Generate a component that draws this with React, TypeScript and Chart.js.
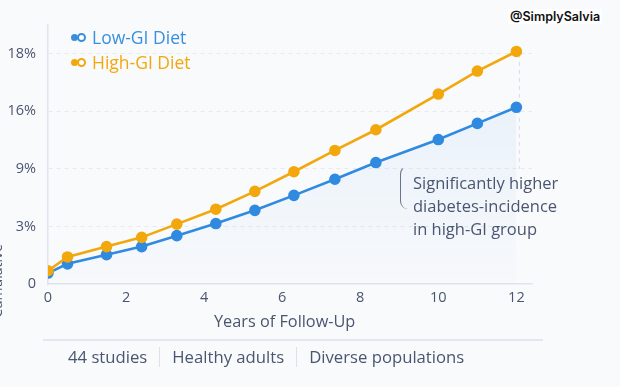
import React, { useEffect, useRef } from "react";
import { Chart, registerables } from "chart.js";

Chart.register(...registerables);

const yTickLabels = ["0", "3%", "9%", "16%", "18%"];
const xTicks = [0, 2, 4, 6, 8, 10, 12];
const years = [0, 0.5, 1.5, 2.4, 3.3, 4.3, 5.3, 6.3, 7.35, 8.4, 10, 11, 12];
const lowGI = [0.19, 0.35, 0.51, 0.65, 0.84, 1.05, 1.28, 1.54, 1.82, 2.11, 2.51, 2.79, 3.07];
const highGI = [0.23, 0.47, 0.65, 0.81, 1.04, 1.3, 1.61, 1.95, 2.32, 2.68, 3.3, 3.7, 4.04];
const footerItems = ["44 studies", "Healthy adults", "Diverse populations"];
const annotationLines = ["Significantly higher", "diabetes-incidence", "in high-GI group"];

const BLUE = "#2f8ae0";
const ORANGE = "#f2a80c";
const FONT = "'Open Sans', 'Noto Sans', sans-serif";
const TEXT = "#4a5670";

export default function App() {
  const ref = useRef<HTMLCanvasElement | null>(null);

  useEffect(() => {
    if (!ref.current) return;
    const extras = {
      id: "extras",
      beforeDatasetsDraw(chart: any) {
        const { ctx, scales } = chart;
        const x = scales.x.getPixelForValue(12);
        ctx.save();
        ctx.strokeStyle = "rgba(190,200,225,0.6)";
        ctx.setLineDash([4, 4]);
        ctx.lineWidth = 1;
        ctx.beginPath();
        ctx.moveTo(x + 3, scales.y.getPixelForValue(4));
        ctx.lineTo(x + 3, scales.y.getPixelForValue(2));
        ctx.stroke();
        ctx.restore();
      },
      afterDraw(chart: any) {
        const { ctx } = chart;
        ctx.save();
        ctx.translate(2, 281);
        ctx.rotate(-Math.PI / 2);
        ctx.font = "14px " + FONT;
        ctx.fillStyle = TEXT;
        ctx.textAlign = "center";
        ctx.textBaseline = "alphabetic";
        ctx.fillText("Cumulative", 0, 0);
        ctx.restore();
      },
    };
    const chart = new Chart(ref.current, {
      type: "line",
      data: {
        datasets: [
          {
            label: "High-GI Diet",
            data: years.map((x, i) => ({ x, y: highGI[i] })),
            borderColor: ORANGE,
            backgroundColor: ORANGE,
            pointBackgroundColor: ORANGE,
            pointBorderColor: ORANGE,
            borderWidth: 2.6,
            pointRadius: 4.5,
            fill: false,
            tension: 0,
          },
          {
            label: "Low-GI Diet",
            data: years.map((x, i) => ({ x, y: lowGI[i] })),
            borderColor: BLUE,
            pointBackgroundColor: BLUE,
            pointBorderColor: BLUE,
            borderWidth: 2.6,
            pointRadius: 4.5,
            tension: 0,
            fill: "origin",
            backgroundColor: (c: any) => {
              const area = c.chart.chartArea;
              if (!area) return "rgba(47,138,224,0.05)";
              const g = c.chart.ctx.createLinearGradient(0, area.top + 80, 0, area.bottom);
              g.addColorStop(0, "rgba(47,138,224,0.07)");
              g.addColorStop(1, "rgba(47,138,224,0.01)");
              return g;
            },
          },
        ],
      },
      options: {
        animation: false,
        responsive: false,
        layout: { padding: { top: 25, right: 88, left: 0, bottom: 0 } },
        plugins: { legend: { display: false }, tooltip: { enabled: false } },
        scales: {
          x: {
            type: "linear",
            min: 0,
            max: 12.4,
            afterFit: (s: any) => {
              s.height = 387 - 284;
            },
            afterBuildTicks: (s: any) => {
              s.ticks = xTicks.map((v) => ({ value: v }));
            },
            ticks: {
              font: { family: FONT, size: 14.5 },
              color: TEXT,
              padding: 5,
              maxRotation: 0,
            },
            grid: { display: false, drawTicks: false },
            border: { display: true, color: "#dfe4ee", width: 1.5 },
          },
          y: {
            type: "linear",
            min: 0,
            max: 4.5,
            afterFit: (s: any) => {
              s.width = 48;
            },
            ticks: {
              stepSize: 1,
              includeBounds: false,
              font: { family: FONT, size: 14.5 },
              color: TEXT,
              padding: 12,
              callback: (v: any) => yTickLabels[v] ?? "",
            },
            grid: {
              color: (c: any) => (c.tick && c.tick.value === 0 ? "rgba(0,0,0,0)" : "rgba(205,213,230,0.45)"),
              drawTicks: false,
              lineWidth: 1,
            },
            border: { display: true, color: "#dfe4ee", width: 1.5, dash: [4, 4] },
          },
        },
      },
      plugins: [extras],
    } as any);
    return () => chart.destroy();
  }, []);

  const legendItem = (label: string, color: string, top: number) => (
    <div style={{ position: "absolute", left: 71, top, display: "flex", alignItems: "center", color, fontSize: 17.5, fontFamily: FONT, lineHeight: "24px" }}>
      <span style={{ width: 7, height: 7, borderRadius: "50%", background: color, display: "inline-block" }} />
      <span style={{ width: 5, height: 5, borderRadius: "50%", border: `2.5px solid ${color}`, display: "inline-block", marginLeft: -1, background: "#fff" }} />
      <span style={{ marginLeft: 6 }}>{label}</span>
    </div>
  );

  return (
    <div style={{ position: "absolute", left: 0, top: 0, width: 620, height: 387, background: "#f9fafc", overflow: "hidden", fontFamily: FONT }}>
      <canvas ref={ref} width={620} height={387} style={{ position: "absolute", left: 0, top: 0 }} />
      {legendItem("Low-GI Diet", "#3a8fdc", 25)}
      {legendItem("High-GI Diet", ORANGE, 50)}
      <div style={{ position: "absolute", left: 508, top: 9, fontSize: 12.5, fontWeight: 600, color: "#111", fontFamily: "Inter, sans-serif", background: "#fff", padding: "0 2px" }}>
        @SimplySalvia
      </div>
      <div style={{ position: "absolute", left: 400, top: 166, width: 10, height: 42, borderLeft: "1.5px solid #6a7488", borderRadius: "8px 0 0 8px", borderTop: "1px solid transparent" }} />
      <div style={{ position: "absolute", left: 413, top: 171, fontSize: 16.5, lineHeight: "23px", color: TEXT }}>
        {annotationLines.map((l) => (
          <div key={l}>{l}</div>
        ))}
      </div>
      <div style={{ position: "absolute", left: 214, top: 310, fontSize: 16.3, lineHeight: "23px", color: TEXT }}>
        Years of Follow-Up
      </div>
      <div style={{ position: "absolute", left: 43, width: 500, top: 339, height: 1.5, background: "#e3e7ef" }} />
      <div style={{ position: "absolute", left: 68, top: 345, display: "flex", alignItems: "center", fontSize: 16.7, lineHeight: "23px", color: TEXT }}>
        {footerItems.map((f, i) => (
          <React.Fragment key={f}>
            {i > 0 && <span style={{ width: 1, height: 20, background: "#dde2ea", margin: "0 12px" }} />}
            <span>{f}</span>
          </React.Fragment>
        ))}
      </div>
    </div>
  );
}
